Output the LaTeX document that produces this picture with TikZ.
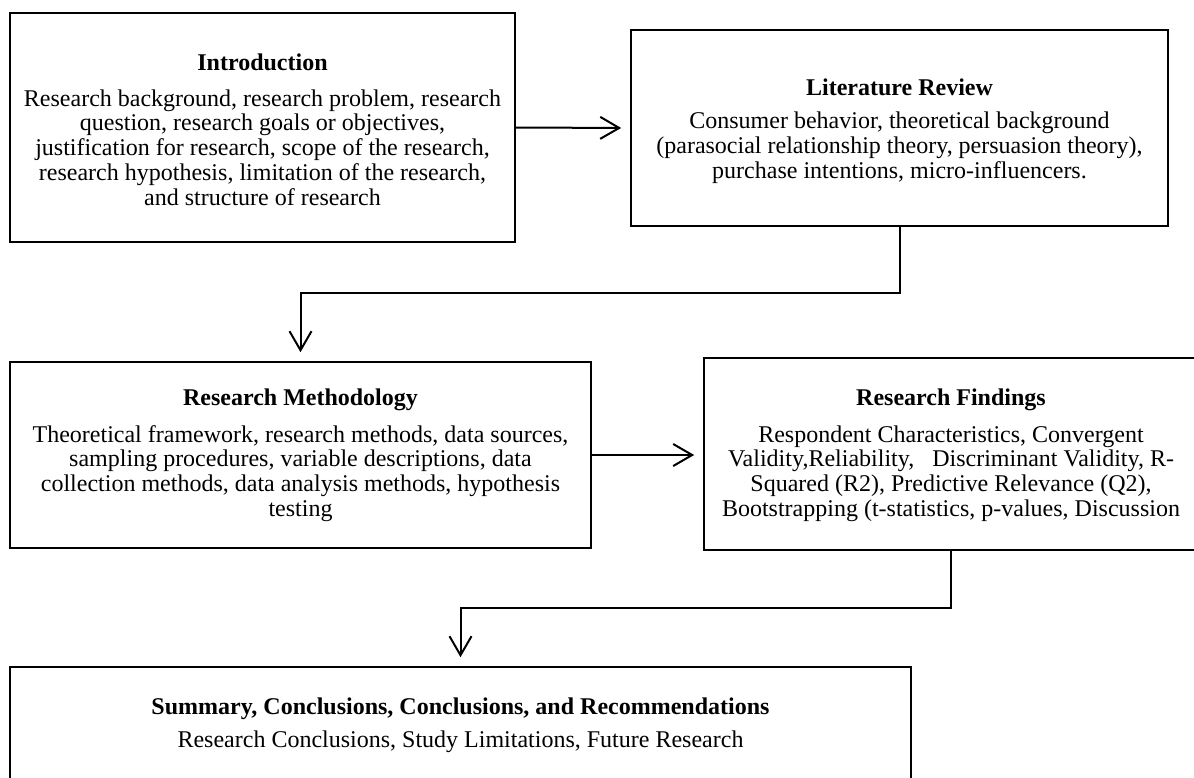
\documentclass[tikz,border=0pt]{standalone}
\usepackage{fontspec}
\setmainfont{Liberation Serif}
\usetikzlibrary{arrows.meta}
\tikzset{
  box/.style={draw, line width=1.2pt, rectangle, inner sep=0pt},
  ttl/.style={font=\fontsize{12}{12.4}\selectfont\bfseries, inner sep=0pt, align=center},
  body/.style={font=\fontsize{12}{12.4}\selectfont, inner sep=0pt, align=center},
  conn/.style={line width=1pt, -{Straight Barb[length=9.5pt,width=11pt,line width=1pt]}, shorten >=4.3pt}
}
\begin{document}
\begin{tikzpicture}[x=0.5pt,y=-0.5pt]
\useasboundingbox (0,0) rectangle (1194,777);
% boxes
\node[box, minimum width=252.5pt, minimum height=114.5pt] (intro) at (262.5,127.5) {};
\node[box, minimum width=268.5pt, minimum height=98pt] (lit) at (899.5,128) {};
\node[box, minimum width=290.5pt, minimum height=93pt] (meth) at (300.5,455) {};
\node[box, minimum width=247pt, minimum height=96pt] (find) at (951,454) {};
\node[box, minimum width=450.5pt, minimum height=66pt] (summ) at (460.5,733) {};
% texts
\node[ttl] (introt) at (262.5,62) {Introduction};
\node[body] (introb) at (262.5,147.5) {Research background, research problem, research\\question, research goals or objectives,\\justification\ for research, scope of the research,\\research hypothesis, limitation\ of the research,\\and structure of research};
\node[ttl] (litt) at (899.5,87) {Literature Review};
\node[body] (litb) at (899.5,147.5) {Consumer behavior, theoretical background\\(parasocial relationship theory, persuasion theory),\\purchase intentions, micro-influencers.};
\node[ttl] (metht) at (300.5,400) {Research Methodology};
\node[body] (methb) at (300.5,473.5) {Theoretical framework, research methods, data sources,\\sampling procedures, variable descriptions, data\\collection methods, data analysis methods, hypothesis\\testing};
\node[ttl] (findt) at (951,400) {Research Findings};
\node[body] (findb) at (951,473.5) {Respondent Characteristics, Convergent\\Validity,Reliability,\ \ \ Discriminant Validity, R-\\Squared (R2), Predictive Relevance (Q2),\\Bootstrapping (t-statistics, p-values, Discussion};
\node[ttl] (summt) at (460.5,709) {Summary, Conclusions, Conclusions, and Recommendations};
\node[body] (summb) at (460.5,742) {Research Conclusions, Study Limitations, Future Research};
% connectors
\draw[conn] (intro.east) -- (lit.west);
\draw[conn] (meth.east) -- (meth.east -| find.west);
\coordinate (c2) at (300.5,293);
\draw[conn] (lit.south) |- (c2) -- (meth.north);
\coordinate (c4) at (460.5,608);
\draw[conn] (find.south) |- (c4) -- (summ.north);
\end{tikzpicture}
\end{document}
